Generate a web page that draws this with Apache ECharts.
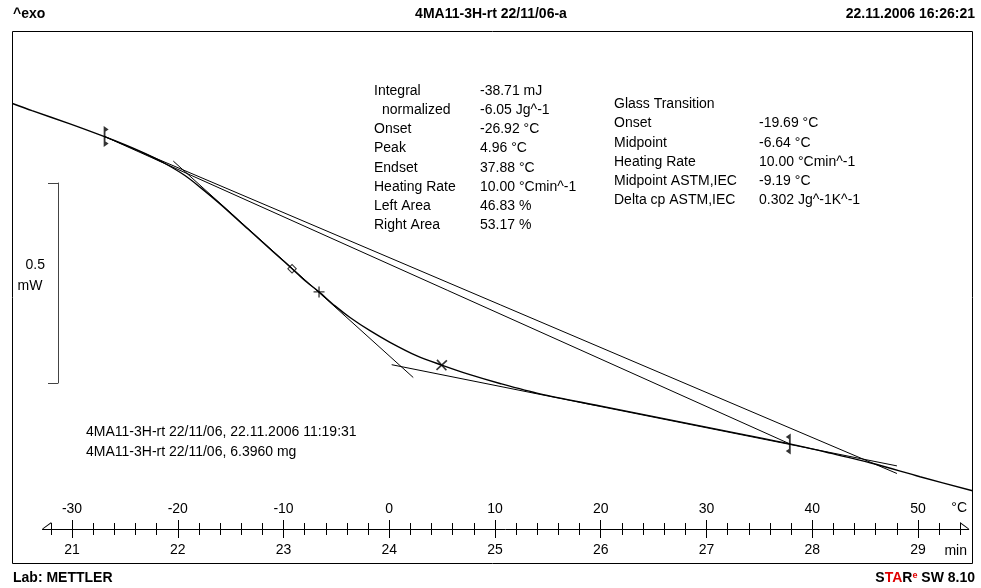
<!DOCTYPE html>
<html>
<head>
<meta charset="utf-8">
<script src="https://cdn.jsdelivr.net/npm/echarts@6/dist/echarts.min.js"></script>
<style>html,body{margin:0;padding:0;background:#fff}#c{width:981px;height:588px}</style>
</head>
<body>
<div id="c"></div>
<script>
// ---------- DATA ----------
// DSC curve: sample temperature (°C) vs heat flow (mW)
const curveTemp = [-35.63, -33.78, -30.19, -26.92, -25.01, -23.10, -21.21, -19.32, -17.90, -16.00, -13.36, -10.80, -9.19, -7.87, -6.64, -5.13, -3.71, -1.82, 0.07, 2.62, 4.96, 7.63, 10.47, 14.26, 19.93, 24.66, 29.39, 33.17, 37.88, 41.68, 45.75, 50.19, 55.15];
const curveHeat = [-0.180, -0.198, -0.231, -0.263, -0.283, -0.305, -0.330, -0.360, -0.389, -0.431, -0.494, -0.555, -0.593, -0.625, -0.651, -0.686, -0.715, -0.748, -0.777, -0.811, -0.834, -0.858, -0.880, -0.906, -0.936, -0.961, -0.986, -1.006, -1.031, -1.054, -1.080, -1.113, -1.148];

// evaluation lines (start / end)
const integralBaseTemp = [-26.92, 48.01];
const integralBaseHeat = [-0.2625, -1.105];
const limitLineTemp = [-26.92, 37.88];
const limitLineHeat = [-0.2625, -1.031];
const tangentTemp = [-20.42, 2.27];
const tangentHeat = [-0.324, -0.865];
const postBaseTemp = [0.23, 48.01];
const postBaseHeat = [-0.833, -1.086];

// markers: left limit, ASTM midpoint, midpoint, peak, right limit
const markerTemp = [-26.92, -9.19, -6.64, 4.96, 37.88];
const markerHeat = [-0.2625, -0.593, -0.651, -0.834, -1.031];

// axis ticks
const tempTicks = [-30, -20, -10, 0, 10, 20, 30, 40, 50];
const tempMinorTicks = [-32, -28, -26, -24, -22, -18, -16, -14, -12, -8, -6, -4, -2, 2, 4, 6, 8, 12, 14, 16, 18, 22, 24, 26, 28, 32, 34, 36, 38, 42, 44, 46, 48, 52, 54];
const minuteTicks = [21, 22, 23, 24, 25, 26, 27, 28, 29];
const scaleBarValues = [0, 0.5];

// texts
const peakLabels = ['Integral', 'normalized', 'Onset', 'Peak', 'Endset', 'Heating Rate', 'Left Area', 'Right Area'];
const peakValues = ['-38.71 mJ', '-6.05 Jg^-1', '-26.92 °C', '4.96 °C', '37.88 °C', '10.00 °Cmin^-1', '46.83 %', '53.17 %'];
const glassLabels = ['Glass Transition', 'Onset', 'Midpoint', 'Heating Rate', 'Midpoint ASTM,IEC', 'Delta cp ASTM,IEC'];
const glassValues = ['', '-19.69 °C', '-6.64 °C', '10.00 °Cmin^-1', '-9.19 °C', '0.302 Jg^-1K^-1'];
const sampleLines = ['4MA11-3H-rt 22/11/06, 22.11.2006 11:19:31', '4MA11-3H-rt 22/11/06, 6.3960 mg'];

// ---------- CHART ----------
const FONT = '"Liberation Sans", Arial, sans-serif';
const zip = (a, b) => a.map((v, i) => [v, b[i]]);

const limitLeft = 'path://M0 0 L5 3.5 L1.8 5.5 L1.8 15.5 L5 17.5 L0 21 Z';
const limitRight = 'path://M5 0 L0 3.5 L3.2 5.5 L3.2 15.5 L0 17.5 L5 21 Z';
const plusPath = 'path://M4.4 0 H5.6 V4.4 H10 V5.6 H5.6 V10 H4.4 V5.6 H0 V4.4 H4.4 Z';
const hollowSquare = 'path://M0 0 H10 V10 H0 Z M1.5 1.5 V8.5 H8.5 V1.5 Z';
const markerStyles = [
  {symbol: limitLeft, symbolSize: [5, 21], symbolOffset: [1.6, 0]},
  {symbol: hollowSquare, symbolSize: 7, symbolRotate: 45},
  {symbol: plusPath, symbolSize: 11, symbolRotate: 0},
  {symbol: plusPath, symbolSize: 14, symbolRotate: 42},
  {symbol: limitRight, symbolSize: [5, 21], symbolOffset: [-1.6, 0]}
];
const markerData = markerTemp.map((t, i) => Object.assign({value: [t, markerHeat[i]]}, markerStyles[i]));

const arrowEnd = 'path://M64 0 L76 0 L12 87.5 L0 87.5 Z M140 87.5 L140 87 L139.5 87.5 Z';
const arrowStart = 'path://M64 0 L76 0 L140 87.5 L128 87.5 Z M0 87.5 L0 87 L0.5 87.5 Z';

const lineSeries = (name, data, width, smooth) => ({
  name, type: 'line', xAxisIndex: 0, yAxisIndex: 0, data,
  showSymbol: false, symbol: 'none', smooth: smooth || false,
  lineStyle: {color: '#000', width}, silent: true, z: 3
});

const labelStyle = {fontFamily: FONT, fontSize: 14, color: '#000'};

const graphics = [];
function txt(x, y, text, opts) {
  graphics.push({type: 'text', x, y, silent: true, style: Object.assign({
    text, fontFamily: FONT, fontSize: 14, fill: '#000', align: 'left', verticalAlign: 'middle'
  }, opts || {})});
}
txt(13, 14, '^exo', {fontWeight: 'bold'});
txt(491, 14, '4MA11-3H-rt 22/11/06-a', {fontWeight: 'bold', align: 'center'});
txt(975, 14, '22.11.2006 16:26:21', {fontWeight: 'bold', align: 'right'});
txt(13, 578, 'Lab: METTLER', {fontWeight: 'bold'});
graphics.push({type: 'text', x: 975, y: 578, silent: true, style: {
  text: '{k|S}{r|TA}{k|R}{s|e}{k| SW 8.10}', align: 'right', verticalAlign: 'middle',
  rich: {
    k: {fontFamily: FONT, fontSize: 14, fontWeight: 'bold', fill: '#000'},
    r: {fontFamily: FONT, fontSize: 14, fontWeight: 'bold', fill: '#e00000'},
    s: {fontFamily: FONT, fontSize: 9, fontWeight: 'bold', fill: '#e00000', verticalAlign: 'top'}
  }
}});
peakLabels.forEach((l, i) => {
  txt(l === 'normalized' ? 382 : 374, 91 + i * 19.2, l);
  txt(480, 91 + i * 19.2, peakValues[i]);
});
glassLabels.forEach((l, i) => {
  txt(614, 104.5 + i * 19.1, l);
  if (glassValues[i]) txt(759, 104.5 + i * 19.1, glassValues[i]);
});
sampleLines.forEach((l, i) => txt(86, 432 + i * 20, l));
txt(45, 265, '0.5', {align: 'right'});
txt(30, 286, 'mW', {align: 'center'});
txt(967, 508, '°C', {align: 'right'});
txt(967, 551, 'min', {align: 'right'});

const hiddenAxis = {show: false, splitLine: {show: false}};

const option = {
  animation: false,
  backgroundColor: '#fff',
  grid: [
    {left: 12.5, right: 8.5, top: 31.5, bottom: 24.5, show: true, borderColor: '#000', borderWidth: 1, backgroundColor: 'transparent'},
    {left: 42.5, right: 12.25, top: 529, height: 0},
    {left: 58, top: 183, width: 0, height: 200}
  ],
  xAxis: [
    Object.assign({type: 'value', gridIndex: 0, min: -35.626, max: 55.154}, hiddenAxis),
    {type: 'value', gridIndex: 1, position: 'top', min: -32.79, max: 54.80,
     splitLine: {show: false},
     axisLine: {show: true, lineStyle: {color: '#000', width: 1},
       symbol: [arrowStart, arrowEnd], symbolSize: [14, 8.75], symbolOffset: [4.375, -4.375]},
     axisTick: {show: true, customValues: tempTicks, length: 9, lineStyle: {color: '#000'}},
     axisLabel: Object.assign({customValues: tempTicks, margin: 13}, labelStyle)},
    {type: 'value', gridIndex: 1, position: 'top', min: -32.79, max: 54.80,
     splitLine: {show: false}, axisLine: {show: false},
     axisTick: {show: true, customValues: tempMinorTicks, length: 6, lineStyle: {color: '#000'}},
     axisLabel: {show: false}},
    {type: 'value', gridIndex: 1, position: 'bottom', min: 20.721, max: 29.480,
     splitLine: {show: false}, axisLine: {show: false},
     axisTick: {show: true, customValues: minuteTicks, length: 9, lineStyle: {color: '#000'}},
     axisLabel: Object.assign({customValues: minuteTicks, margin: 14}, labelStyle)},
    {type: 'value', gridIndex: 1, position: 'bottom', min: -32.79, max: 54.80,
     splitLine: {show: false}, axisLine: {show: false},
     axisTick: {show: true, customValues: tempMinorTicks, length: 6, lineStyle: {color: '#000'}},
     axisLabel: {show: false}},
    Object.assign({type: 'value', gridIndex: 2, min: 0, max: 1}, hiddenAxis)
  ],
  yAxis: [
    Object.assign({type: 'value', gridIndex: 0, min: -1.33, max: 0}, hiddenAxis),
    Object.assign({type: 'value', gridIndex: 1, min: 0, max: 1}, hiddenAxis),
    {type: 'value', gridIndex: 2, position: 'left', min: scaleBarValues[0], max: scaleBarValues[1],
     splitLine: {show: false},
     axisLine: {show: true, lineStyle: {color: '#444', width: 1}},
     axisTick: {show: true, customValues: scaleBarValues, length: 10, lineStyle: {color: '#444'}},
     axisLabel: {show: false}}
  ],
  graphic: graphics,
  series: [
    lineSeries('Integral baseline', zip(integralBaseTemp, integralBaseHeat), 1),
    lineSeries('Limit line', zip(limitLineTemp, limitLineHeat), 1),
    lineSeries('Inflection tangent', zip(tangentTemp, tangentHeat), 1),
    lineSeries('Post-transition baseline', zip(postBaseTemp, postBaseHeat), 1),
    lineSeries('DSC', zip(curveTemp, curveHeat), 1.4, 0.3),
    {name: 'Markers', type: 'scatter', xAxisIndex: 0, yAxisIndex: 0, data: markerData,
     itemStyle: {color: '#000', borderWidth: 0}, silent: true, z: 5}
  ]
};

const chart = echarts.init(document.getElementById('c'), null, {renderer: 'canvas'});
chart.setOption(option);
</script>
</body>
</html>
